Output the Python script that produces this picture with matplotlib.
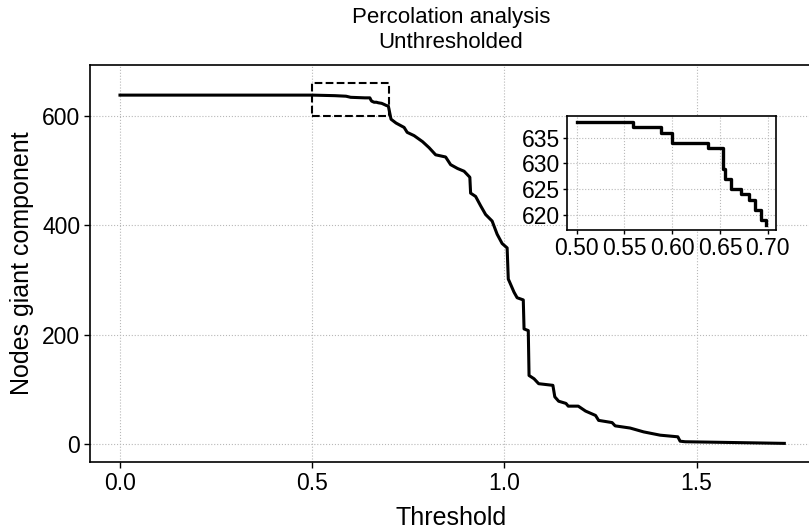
import matplotlib.pyplot as plt
from matplotlib.patches import Rectangle

plt.rcParams['font.family'] = ['Liberation Sans', 'DejaVu Sans']

# threshold / size of giant component
threshold = [0.0, 0.50, 0.559, 0.588, 0.600, 0.637, 0.650, 0.6527, 0.6547, 0.661,
             0.667, 0.672, 0.6806, 0.687, 0.693, 0.698, 0.705, 0.718, 0.739, 0.747,
             0.765, 0.787, 0.804, 0.821, 0.847, 0.860, 0.878, 0.895, 0.910, 0.912,
             0.925, 0.938, 0.951, 0.968, 0.981, 0.994, 1.007, 1.010, 1.012, 1.025,
             1.033, 1.049, 1.051, 1.062, 1.064, 1.077, 1.089, 1.126, 1.131, 1.141,
             1.160, 1.166, 1.192, 1.211, 1.237, 1.245, 1.280, 1.288, 1.327, 1.362,
             1.405, 1.451, 1.457, 1.470, 1.643, 1.728]
nodes = [638, 638, 637, 636, 634, 633, 633, 629, 627, 625,
         625, 624, 623, 621, 619, 618, 594, 587, 579, 570,
         564, 553, 542, 529, 525, 511, 504, 499, 488, 459,
         453, 436, 420, 408, 384, 367, 359, 302, 299, 278,
         268, 264, 211, 208, 126, 120, 111, 108, 87, 79,
         75, 70, 70, 61, 53, 44, 40, 34, 30, 23,
         17, 14, 6, 5, 3, 2]

zoom_x = (0.5, 0.7)
zoom_y = (600, 660)

fig = plt.figure(figsize=(8.09, 5.30), dpi=100)
ax = fig.add_axes([90 / 809, 1 - 462 / 530, 722 / 809, 397 / 530])

ax.plot(threshold, nodes, color='black', lw=2.2, zorder=3)
ax.add_patch(Rectangle((zoom_x[0], zoom_y[0]), zoom_x[1] - zoom_x[0], zoom_y[1] - zoom_y[0],
                       fill=False, ls='--', lw=1.5, color='black', zorder=4))

ax.set_xlim(-0.078, 1.80)
ax.set_ylim(-32, 693)
ax.set_xticks([0.0, 0.5, 1.0, 1.5])
ax.set_yticks([0, 200, 400, 600])
ax.grid(True, ls=':', color='#b8b8b8', lw=0.8)
ax.set_axisbelow(True)
for s in ['left', 'bottom', 'top', 'right']:
    ax.spines[s].set_color('black')
    ax.spines[s].set_linewidth(1.2)
ax.tick_params(labelsize=16.5, length=4, width=1, direction='out', pad=3)
ax.set_xlabel('Threshold', fontsize=18, labelpad=8)
ax.set_ylabel('Nodes giant component', fontsize=18, labelpad=6)
ax.set_title('Percolation analysis\nUnthresholded', fontsize=16, pad=12, linespacing=1.25)

# inset: only the part inside the dashed box
zt = [t for t in threshold if zoom_x[0] <= t <= zoom_x[1]]
zn = [n for t, n in zip(threshold, nodes) if zoom_x[0] <= t <= zoom_x[1]]
axin = fig.add_axes([567 / 809, 1 - 230 / 530, 209 / 809, 114 / 530])
axin.plot(zt, zn, color='black', lw=2.4, drawstyle='steps-post', zorder=3)
axin.set_xlim(0.49, 0.7085)
axin.set_ylim(617.1, 639.2)
axin.set_xticks([0.50, 0.55, 0.60, 0.65, 0.70])
axin.set_xticklabels(['0.50', '0.55', '0.60', '0.65', '0.70'])
axin.set_yticks([620, 625, 630, 635])
axin.grid(True, ls=':', color='#b8b8b8', lw=0.8)
axin.set_axisbelow(True)
for s in axin.spines.values():
    s.set_color('black')
    s.set_linewidth(1.2)
axin.tick_params(labelsize=16.5, length=3, width=1, pad=2)

fig.savefig('out.png', dpi=100)
